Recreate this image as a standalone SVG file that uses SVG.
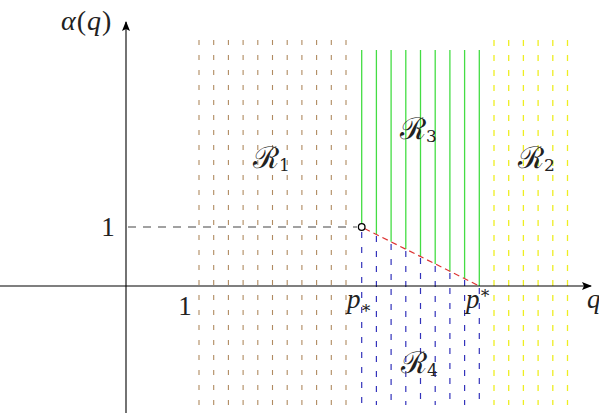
<svg xmlns="http://www.w3.org/2000/svg" width="599" height="415" viewBox="0 0 599 415">
<style>
.br{stroke:#b08a60;stroke-width:1.1;stroke-dasharray:5 10}
.ye{stroke:#eeee22;stroke-width:1.3;stroke-dasharray:6 9}
.bl{stroke:#3333bb;stroke-width:1.2;stroke-dasharray:6 9}
.gr{stroke:#44dd44;stroke-width:1.3}
.ax{stroke:#000;stroke-width:1.1;fill:none}
.t{font-family:"Liberation Serif","DejaVu Serif",serif;font-size:27px;fill:#222}
.i{font-style:italic}
.s{font-size:17px}
.r{font-family:"DejaVu Serif","Liberation Serif",serif;font-size:30px;fill:#222}
</style>
<defs>
<marker id="ah" viewBox="0 0 10 10" refX="9" refY="5" markerWidth="10" markerHeight="10" markerUnits="userSpaceOnUse" orient="auto">
<path d="M0,1 L10,5 L0,9 L2,5 Z" fill="#000"/>
</marker>
</defs>
<g id="regions">
<g id="R1-lines">
<line class="br" x1="199" y1="40" x2="199" y2="405"/>
<line class="br" x1="213.7" y1="40" x2="213.7" y2="405"/>
<line class="br" x1="228.4" y1="40" x2="228.4" y2="405"/>
<line class="br" x1="243.1" y1="40" x2="243.1" y2="405"/>
<line class="br" x1="257.8" y1="40" x2="257.8" y2="405"/>
<line class="br" x1="272.5" y1="40" x2="272.5" y2="405"/>
<line class="br" x1="287.2" y1="40" x2="287.2" y2="405"/>
<line class="br" x1="301.9" y1="40" x2="301.9" y2="405"/>
<line class="br" x1="316.6" y1="40" x2="316.6" y2="405"/>
<line class="br" x1="331.3" y1="40" x2="331.3" y2="405"/>
<line class="br" x1="346" y1="40" x2="346" y2="405"/>
</g>
<g id="R2-lines">
<line class="ye" x1="494" y1="40" x2="494" y2="405"/>
<line class="ye" x1="508.7" y1="40" x2="508.7" y2="405"/>
<line class="ye" x1="523.4" y1="40" x2="523.4" y2="405"/>
<line class="ye" x1="538.1" y1="40" x2="538.1" y2="405"/>
<line class="ye" x1="552.8" y1="40" x2="552.8" y2="405"/>
<line class="ye" x1="567.5" y1="40" x2="567.5" y2="405"/>
</g>
<g id="R3-lines">
<line class="gr" x1="361.7" y1="50" x2="361.7" y2="224"/>
<line class="gr" x1="376.4" y1="50" x2="376.4" y2="234.4"/>
<line class="gr" x1="391.1" y1="50" x2="391.1" y2="241.8"/>
<line class="gr" x1="405.8" y1="50" x2="405.8" y2="249.1"/>
<line class="gr" x1="420.5" y1="50" x2="420.5" y2="256.5"/>
<line class="gr" x1="435.2" y1="50" x2="435.2" y2="263.9"/>
<line class="gr" x1="449.9" y1="50" x2="449.9" y2="271.3"/>
<line class="gr" x1="464.6" y1="50" x2="464.6" y2="278.6"/>
<line class="gr" x1="479.3" y1="50" x2="479.3" y2="286"/>
</g>
<g id="R4-lines">
<line class="bl" x1="361.7" y1="232" x2="361.7" y2="405"/>
<line class="bl" x1="376.4" y1="236" x2="376.4" y2="405"/>
<line class="bl" x1="391.1" y1="244" x2="391.1" y2="405"/>
<line class="bl" x1="405.8" y1="251" x2="405.8" y2="405"/>
<line class="bl" x1="420.5" y1="258" x2="420.5" y2="405"/>
<line class="bl" x1="435.2" y1="266" x2="435.2" y2="405"/>
<line class="bl" x1="449.9" y1="273" x2="449.9" y2="405"/>
<line class="bl" x1="464.6" y1="280" x2="464.6" y2="405"/>
<line class="bl" x1="479.3" y1="288" x2="479.3" y2="405"/>
</g>
</g>
<g id="connectors">
<line class="ax" x1="0" y1="286" x2="591" y2="286" marker-end="url(#ah)"/>
<line class="ax" x1="126" y1="413" x2="126" y2="22" marker-end="url(#ah)"/>
<line x1="128" y1="227" x2="357" y2="227" stroke="#444" stroke-width="1.1" stroke-dasharray="8 7"/>
<line x1="364.5" y1="228.5" x2="479.3" y2="286" stroke="#dd3333" stroke-width="1.2" stroke-dasharray="6 4"/>
</g>
<g id="point">
<circle cx="361.7" cy="227" r="3.3" fill="#fff" stroke="#000" stroke-width="1.3"/>
</g>
<g id="labels">
<text class="t" x="61" y="30" style="font-size:28px;letter-spacing:1px"><tspan class="i">α</tspan>(<tspan class="i">q</tspan>)</text>
<text class="t" x="108" y="236" text-anchor="middle">1</text>
<text class="t" x="185" y="315" text-anchor="middle">1</text>
<text class="t i" x="347" y="308">p<tspan class="s" dy="5">∗</tspan></text>
<text class="t i" x="466" y="308">p<tspan class="s" dy="-10">∗</tspan></text>
<text class="t i" x="587" y="308">q</text>
<text class="r" x="253" y="168">ℛ<tspan class="s" dy="3">1</tspan></text>
<text class="r" x="400" y="139">ℛ<tspan class="s" dy="3">3</tspan></text>
<text class="r" x="518" y="168">ℛ<tspan class="s" dy="3">2</tspan></text>
<text class="r" x="401" y="373">ℛ<tspan class="s" dy="3">4</tspan></text>
</g>
</svg>
